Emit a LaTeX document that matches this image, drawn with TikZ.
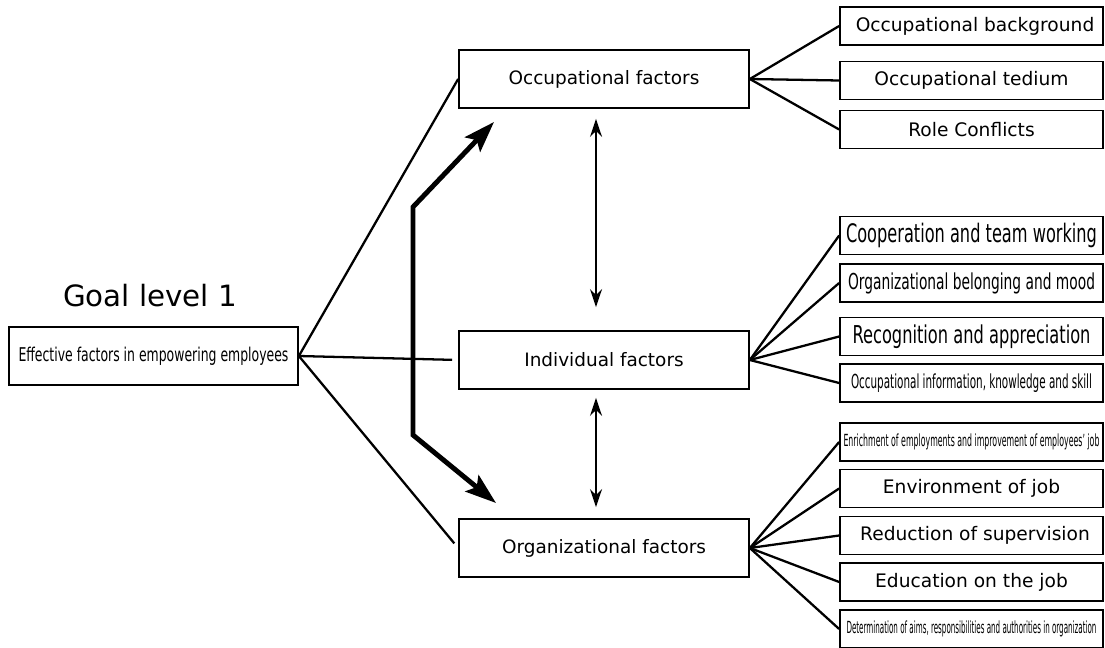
\documentclass[tikz,border=0pt]{standalone}
\usepackage{fontspec}
\setmainfont{DejaVu Sans}
\usepackage{graphicx}
\usetikzlibrary{arrows.meta}
\newcommand{\squeeze}[3]{\resizebox{#1}{\height}{\fontsize{#2}{#2}\selectfont #3}}
\tikzset{
  factor/.style={draw, line width=1pt, minimum width=5.8cm, minimum height=1.16cm, inner sep=0pt, font=\fontsize{10.5}{12}\selectfont},
  item/.style={draw, line width=1pt, minimum width=5.26cm, minimum height=0.76cm, inner sep=0pt, font=\fontsize{10.6}{12}\selectfont},
  link/.style={line width=1.3pt},
  both/.style={line width=1.1pt, {Stealth[length=0.36cm,width=0.24cm]}-{Stealth[length=0.36cm,width=0.24cm]}},
  bold/.style={line width=2.8pt, {Stealth[length=0.62cm,width=0.42cm,inset=0.12cm]}-{Stealth[length=0.62cm,width=0.42cm,inset=0.12cm]}},
}

\begin{document}
\begin{tikzpicture}[x=0.02cm, y=-0.02cm]
    \useasboundingbox (0,0) rectangle (1105,648);

    \node[anchor=base, font=\fontsize{16.7}{18}\selectfont] at (150, 307) (level) {Goal level 1};
    \node[factor, minimum width=5.78cm] at (153.5, 356) (goal) {\squeeze{5.4cm}{10.8}{Effective factors in empowering employees}};

    \node[factor] at (604, 79)  (occ) {Occupational factors};
    \node[factor] at (604, 360) (ind) {Individual factors};
    \node[factor] at (604, 548) (org) {Organizational factors};

    \node[item] at (971.5, 26)    (bg)   {\hspace{0.14cm}Occupational background};
    \node[item] at (971.5, 80.5)  (ted)  {Occupational tedium};
    \node[item] at (971.5, 129.5) (role) {Role Conflicts};

    \node[item] at (971.5, 235.5) (coop)   {\squeeze{5.02cm}{14.5}{Cooperation and team working}};
    \node[item] at (971.5, 283)   (belong) {\squeeze{4.94cm}{12.5}{Organizational belonging and mood}};
    \node[item] at (971.5, 336.5) (recog)  {\squeeze{4.76cm}{14}{Recognition and appreciation}};
    \node[item] at (971.5, 383)   (info)   {\squeeze{4.82cm}{11}{Occupational information, knowledge and skill}};

    \node[item] at (971.5, 442)   (enrich) {\squeeze{5.12cm}{9.5}{Enrichment of employments and improvement of employees' job}};
    \node[item] at (971.5, 488.5) (env)    {Environment of job};
    \node[item] at (971.5, 535.5) (red)    {\hspace{0.14cm}Reduction of supervision};
    \node[item] at (971.5, 582)   (edu)    {Education on the job};
    \node[item] at (971.5, 629)   (det)    {\squeeze{5.0cm}{9.5}{Determination of aims, responsibilities and authorities in organization}};

    \draw[link] (goal.east) -- (occ.west);
    \draw[link, shorten >=0.12cm] (goal.east) -- (ind.west);
    \draw[link, shorten >=0.12cm] (goal.east) -- (org.west);

    \foreach \n in {bg, ted, role} \draw[link] (occ.east) -- (\n.west);
    \foreach \n in {coop, belong, recog, info} \draw[link] (ind.east) -- (\n.west);
    \foreach \n in {enrich, env, red, edu, det} \draw[link] (org.east) -- (\n.west);

    \draw[both] ([xshift=-0.16cm, yshift=-0.2cm]occ.south) -- ([xshift=-0.16cm, yshift=0.46cm]ind.north);
    \draw[both] ([xshift=-0.16cm, yshift=-0.16cm]ind.south) -- ([xshift=-0.16cm, yshift=0.22cm]org.north);

    \coordinate (tiptop) at (494, 122);
    \coordinate (bendtop) at (413, 207);
    \coordinate (bendbot) at (413, 435);
    \coordinate (tipbot) at (496, 503);
    \draw[bold] (tiptop) -- (bendtop) -- (bendbot) -- (tipbot);
\end{tikzpicture}
\end{document}
